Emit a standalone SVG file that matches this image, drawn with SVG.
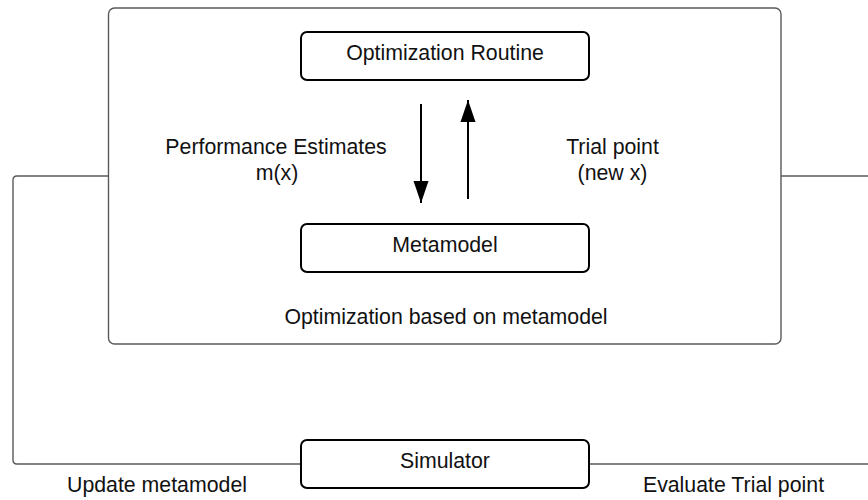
<svg xmlns="http://www.w3.org/2000/svg" width="868" height="500" viewBox="0 0 868 500">
<style>
  .lbl { font-family: "Liberation Sans", Arial, sans-serif; font-size: 21.3px; fill: #111; text-anchor: middle; }
  .box { fill: #fff; stroke: #000; stroke-width: 2; }
  .outer { fill: #fff; stroke: #5a5a5a; stroke-width: 1.4; }
  .conn { fill: none; stroke: #5a5a5a; stroke-width: 1.4; }
  .arr { fill: none; stroke: #000; stroke-width: 2; }
</style>
<defs>
  <marker id="ah" viewBox="0 0 22 16" refX="22" refY="8" markerWidth="22" markerHeight="16" markerUnits="userSpaceOnUse" orient="auto">
    <path d="M0,0.5 L22,8 L0,15.5 Z" fill="#000"/>
  </marker>
</defs>
<rect width="868" height="500" fill="#fff"/>
<g id="connectors">
  <path class="conn" d="M108,176 H17 Q13,176 13,180 V460 Q13,464 17,464 H301"/>
  <path class="conn" d="M781,176 H900 V464 H589"/>
</g>
<g id="container">
  <rect class="outer" x="108.5" y="8" width="672.5" height="336" rx="6"/>
  <text class="lbl" x="446" y="324">Optimization based on metamodel</text>
</g>
<g id="optimization-routine">
  <rect class="box" x="301" y="32" width="288" height="48" rx="6"/>
  <text class="lbl" x="445" y="60">Optimization Routine</text>
</g>
<g id="metamodel">
  <rect class="box" x="301" y="224" width="288" height="48" rx="6"/>
  <text class="lbl" x="445" y="252">Metamodel</text>
</g>
<g id="simulator">
  <rect class="box" x="301" y="440" width="288" height="48" rx="6"/>
  <text class="lbl" x="445" y="468">Simulator</text>
</g>
<g id="arrows">
  <path class="arr" d="M421,104 V203" marker-end="url(#ah)"/>
  <path class="arr" d="M468,199 V100" marker-end="url(#ah)"/>
</g>
<g id="labels">
  <text class="lbl" x="276" y="154">Performance Estimates</text>
  <text class="lbl" x="277" y="180">m(x)</text>
  <text class="lbl" x="612.5" y="154">Trial point</text>
  <text class="lbl" x="612.5" y="180">(new x)</text>
  <text class="lbl" x="157" y="492">Update metamodel</text>
  <text class="lbl" x="733.5" y="492">Evaluate Trial point</text>
</g>
</svg>
